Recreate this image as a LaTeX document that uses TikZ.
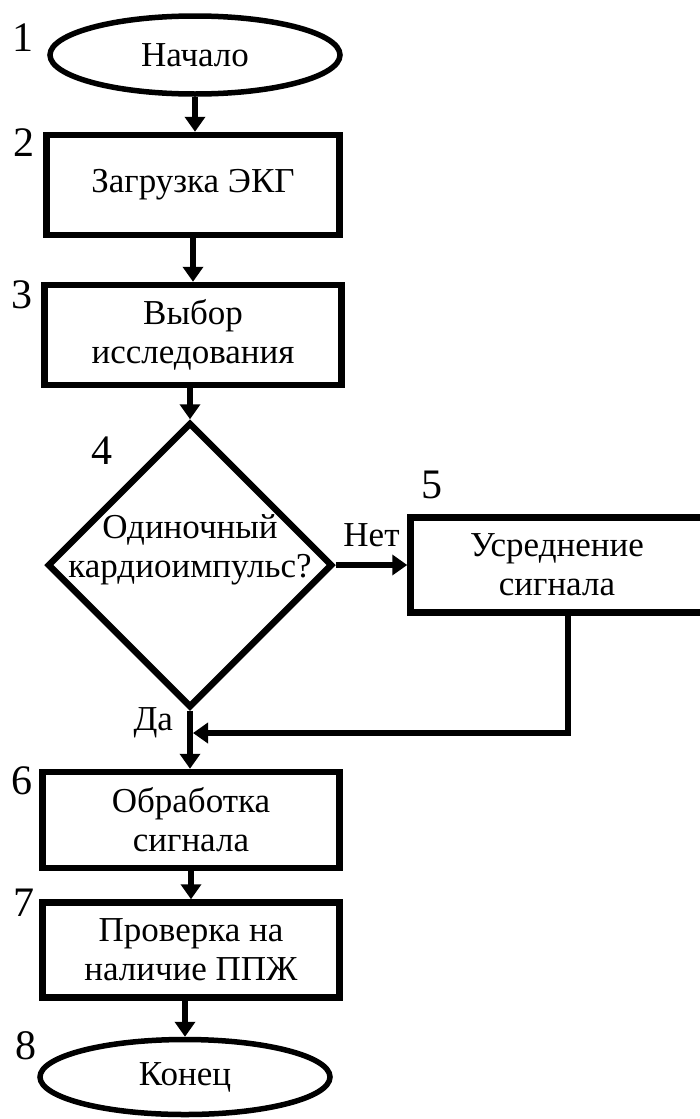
\documentclass[tikz,border=0pt]{standalone}
\usepackage{fontspec}
\setmainfont{Liberation Serif}
\usetikzlibrary{shapes.geometric,arrows.meta,positioning}
\tikzset{
  txt/.style={font=\fontsize{35}{39}\selectfont},
  blk/.style={draw, line width=6.5pt, rectangle, inner sep=0pt, align=center, txt},
  term/.style={draw, line width=5.5pt, ellipse, inner sep=0pt, txt},
  decide/.style={draw, line width=6.5pt, diamond, inner sep=0pt, txt},
  num/.style={font=\fontsize{42}{46}\selectfont, inner sep=0pt},
  lbl/.style={txt, inner sep=0pt},
  arr/.style={line width=6pt, -{Triangle[width=20pt,length=15pt]}}}

\begin{document}
\begin{tikzpicture}[x=1pt,y=-1pt]
\useasboundingbox (0,0) rectangle (699,1119);
\node[term, minimum width=290pt, minimum height=78pt] (start) at (195,55) {Начало};
\node[blk, minimum width=293pt, minimum height=100pt] (load) at (193,185) {Загрузка ЭКГ};
\node[blk, minimum width=297pt, minimum height=100pt] (pick) at (193,335) {Выбор\\исследования};
\node[decide, minimum width=285pt, minimum height=285pt] (single) at (190,565)
  {\raisebox{9pt}[0pt][0pt]{\begin{tabular}{@{}c@{}}Одиночный\\кардиоимпульс?\end{tabular}}};
\node[blk, minimum width=293pt, minimum height=95pt] (avg) at (557,565) {Усреднение\\сигнала};
\node[blk, minimum width=297pt, minimum height=96pt] (proc) at (191,820) {Обработка\\сигнала};
\node[blk, minimum width=297pt, minimum height=95pt] (check) at (191,950) {Проверка на\\наличие ППЖ};
\node[term, minimum width=290pt, minimum height=75pt] (stop) at (185,1077) {Конец};

\node[num] (n1) at (23,38) {1};
\node[num] (n2) at (24,143) {2};
\node[num] (n3) at (22,295) {3};
\node[num] (n4) at (102,451) {4};
\node[num] (n5) at (432,485) {5};
\node[num] (n6) at (22,781) {6};
\node[num] (n7) at (24,903) {7};
\node[num] (n8) at (26,1046) {8};

\draw[arr] (start.south) -- (start.south |- load.north);
\draw[arr] (load.south) -- (load.south |- pick.north);
\draw[arr] (single.north |- pick.south) -- (single.north);
\draw[arr] (single.east) -- node[lbl, above=15pt] (no) {Нет} (avg.west);
\draw[arr] (single.south) -- node[lbl, pos=0.2, left=14pt] (yes) {Да} (single.south |- proc.north);
\coordinate (fbtop) at (568,612);
\coordinate (fbjoin) at (193,733);
\draw[arr] (fbtop) |- (fbjoin);
\draw[arr] (proc.south) -- (proc.south |- check.north);
\draw[arr] (check.south -| stop.north) -- (stop.north);
\end{tikzpicture}
\end{document}
